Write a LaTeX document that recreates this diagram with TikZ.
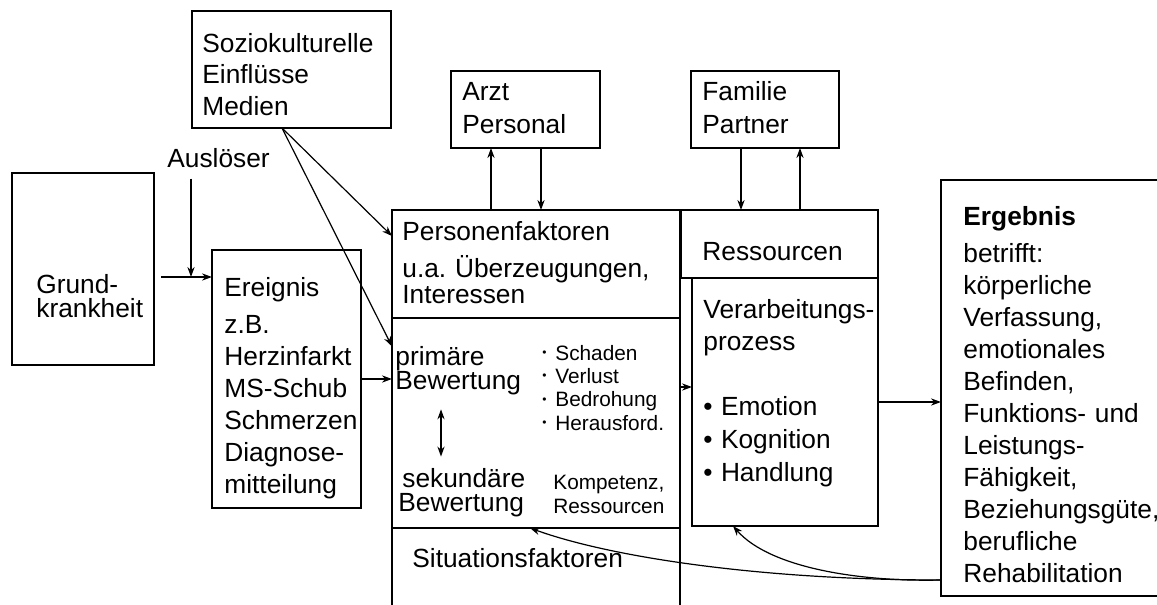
\documentclass[tikz,border=0pt]{standalone}
\usepackage{fontspec}
\setmainfont{Liberation Sans}
\usetikzlibrary{arrows.meta}
\newcommand{\listdot}{{\fontsize{6pt}{6pt}\selectfont\raisebox{1.8pt}{•}}\hspace{4.4pt}}

\begin{document}
\begin{tikzpicture}[x=0.5pt, y=-0.5pt, >={Stealth[length=5pt,width=3.6pt]},
  box/.style={draw, line width=0.8pt, inner sep=0pt, outer sep=0pt},
  heavy/.style={box, line width=1.1pt},
  txt/.style={inner sep=0pt, anchor=base west, align=left, text width=140pt,
    font=\fontsize{13.15pt}{16pt}\selectfont},
  smalltxt/.style={txt, font=\fontsize{10.4pt}{11.7pt}\selectfont},
  link/.style={->, line width=0.6pt}]
\useasboundingbox (0,0) rectangle (1157,605);
% boxes
\node[box, minimum width=99.5pt, minimum height=58.5pt] (sozio) at (291.5,69.5) {};
\node[box, minimum width=71pt, minimum height=96pt] (grund) at (83,269) {};
\node[box, minimum width=74.5pt, minimum height=129pt] (ereig) at (286.5,379) {};
\node[heavy, minimum width=144pt, minimum height=54pt] (person) at (536,264) {};
\node[heavy, minimum width=144pt, minimum height=105pt] (bewert) at (536,423) {};
\node[box, minimum width=74.5pt, minimum height=38.5pt] (arzt) at (525.5,109.5) {};
\node[box, minimum width=74pt, minimum height=38.5pt] (familie) at (765,109.5) {};
\node[heavy, minimum width=98.5pt, minimum height=34pt] (ressour) at (779.5,244) {};
\node[box, minimum width=93pt, minimum height=124pt] (verarb) at (785,402) {};
\node[box, minimum width=114.5pt, minimum height=208pt] (ergeb) at (1055.5,388) {};
\draw[line width=1.1pt] (bewert.south west) -- ++(0,80);
\draw[line width=1.1pt] (bewert.south east) -- ++(0,80);
\coordinate (trig) at (191,277);
% texts
\node[txt] (soztxt) at (202,52) {Soziokulturelle\\Einflüsse\\Medien};
\node[txt] (ausl) at (167,167) {Auslöser};
\node[txt, font=\fontsize{13.15pt}{12pt}\selectfont] (grundtxt) at (36,293) {Grund-\\krankheit};
\node[txt] (eretxt) at (224,296) {Ereignis\\[2.5pt]z.B.\\Herzinfarkt\\MS-Schub\\Schmerzen\\Diagnose-\\mitteilung};
\node[txt, font=\fontsize{13.15pt}{13pt}\selectfont] (pertxt) at (402,240) {Personenfaktoren\\[5.5pt]u.a.\ Überzeugungen,\\Interessen};
\node[txt, font=\fontsize{13.15pt}{12pt}\selectfont] (prim) at (395,365) {primäre\\Bewertung};
\node[smalltxt] (bewlist) at (542,360) {\listdot Schaden\\\listdot Verlust\\\listdot Bedrohung\\\listdot Herausford.};
\node[txt, font=\fontsize{13.15pt}{12pt}\selectfont] (sek) at (398,487) {\hspace*{2pt}sekundäre\\Bewertung};
\node[smalltxt, font=\fontsize{10.4pt}{12pt}\selectfont] (komp) at (553,489) {Kompetenz,\\Ressourcen};
\node[txt] (sittxt) at (412,567) {Situationsfaktoren};
\node[txt, font=\fontsize{13.15pt}{16.5pt}\selectfont] (arzttxt) at (462,100) {Arzt\\Personal};
\node[txt, font=\fontsize{13.15pt}{16.5pt}\selectfont] (famtxt) at (702,100) {Familie\\Partner};
\node[txt] (restxt) at (702,260) {Ressourcen};
\node[txt] (vertxt) at (703,318) {Verarbeitungs-\\prozess};
\node[txt, font=\fontsize{13.15pt}{16.5pt}\selectfont] (proclist) at (703,415) {•\hspace{4.2pt}Emotion\\•\hspace{4.2pt}Kognition\\•\hspace{4.2pt}Handlung};
\node[txt] (ergtxt) at (963,225) {\textbf{Ergebnis}\\[2.5pt]betrifft:\\körperliche\\Verfassung,\\emotionales\\Befinden,\\Funktions- und\\Leistungs-\\Fähigkeit,\\Beziehungsgüte,\\berufliche\\Rehabilitation};
% arrows
\draw[link, shorten <=5.5pt] (ausl.south -| trig) -- (trig);
\draw[link, shorten <=3.5pt] (grund.east |- trig) -- (ereig.west |- trig);
\draw[link] (ereig.east) -- (ereig.east -| bewert.west);
\draw[link] ([xshift=-4.75pt]sozio.south) -- (person.169.4);
\draw[link] ([xshift=-4.75pt]sozio.south) -- (bewert.152.5);
\draw[link, <-] ([xshift=-17.25pt]arzt.south) -- ++(0,62);
\draw[link] ([xshift=7.75pt]arzt.south) -- ++(0,62);
\draw[link] ([xshift=-12pt]familie.south) -- ++(0,62);
\draw[link, <-] ([xshift=17.5pt]familie.south) -- ++(0,62);
\draw[link, <-] ([yshift=7.5pt]verarb.west) -- ++(-12,0);
\draw[link] (verarb.east) -- (verarb.east -| ergeb.west);
\draw[<->, line width=0.6pt, shorten <=7.25pt, shorten >=5.5pt] ([xshift=23pt]prim.south west) -- ([xshift=21.5pt]sek.north west);
\draw[link] ([yshift=8pt]ergeb.south west) .. controls (760,580) and (610,557) .. ([xshift=-3pt]bewert.south);
\draw[link] ([yshift=8pt]ergeb.south west) .. controls (860,582) and (770,568) .. ([xshift=-26pt]verarb.south);
\end{tikzpicture}
\end{document}
